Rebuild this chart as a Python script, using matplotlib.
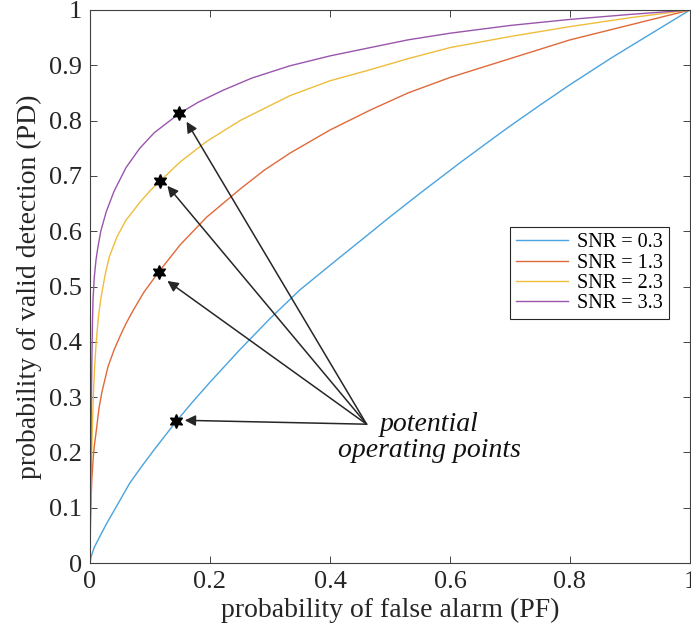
import matplotlib
matplotlib.use("Agg")
import matplotlib.pyplot as plt

plt.rcParams['font.family'] = ['Liberation Serif', 'DejaVu Serif']

# ---- data ----
snr_labels = ["SNR = 0.3", "SNR = 1.3", "SNR = 2.3", "SNR = 3.3"]

pf_snr03 = [0, 0.002, 0.007, 0.015, 0.027, 0.045, 0.066, 0.085, 0.107, 0.143, 0.17,
            0.2, 0.25, 0.3, 0.35, 0.411, 0.45, 0.5, 0.553, 0.617, 0.672, 0.7, 0.75,
            0.8, 0.867, 0.9, 0.95, 1.0]
pd_snr03 = [0, 0.012, 0.028, 0.045, 0.07, 0.104, 0.144, 0.173, 0.205, 0.255, 0.29,
            0.327, 0.386, 0.442, 0.494, 0.548, 0.582, 0.626, 0.671, 0.724, 0.768, 0.79, 0.828,
            0.865, 0.912, 0.934, 0.967, 1.0]

pf_snr13 = [0, 0.0003, 0.001, 0.002, 0.003, 0.005, 0.007, 0.01, 0.015, 0.02, 0.03,
            0.04, 0.05, 0.06, 0.071, 0.09, 0.115, 0.15, 0.194, 0.25, 0.29, 0.333,
            0.4, 0.467, 0.53, 0.6, 0.7, 0.8, 0.9, 1.0]
pd_snr13 = [0, 0.04, 0.08, 0.12, 0.15, 0.185, 0.21, 0.235, 0.28, 0.31, 0.355,
            0.385, 0.41, 0.433, 0.455, 0.49, 0.527, 0.575, 0.625, 0.676, 0.71, 0.741,
            0.783, 0.819, 0.85, 0.878, 0.912, 0.946, 0.973, 1.0]

pf_snr23 = [0, 0.0003, 0.001, 0.002, 0.003, 0.004, 0.0055, 0.0075, 0.01, 0.014, 0.018,
            0.025, 0.032, 0.045, 0.06, 0.083, 0.1, 0.117, 0.15, 0.194, 0.25, 0.333,
            0.4, 0.467, 0.53, 0.6, 0.7, 0.8, 0.9, 1.0]
pd_snr23 = [0, 0.05, 0.1, 0.16, 0.21, 0.25, 0.3, 0.35, 0.395, 0.445, 0.478,
            0.52, 0.553, 0.59, 0.62, 0.652, 0.673, 0.691, 0.725, 0.762, 0.80, 0.845,
            0.872, 0.892, 0.912, 0.932, 0.952, 0.970, 0.986, 1.0]

pf_snr33 = [0, 0.0003, 0.001, 0.002, 0.003, 0.004, 0.005, 0.007, 0.01, 0.013, 0.018,
            0.027, 0.04, 0.06, 0.083, 0.107, 0.149, 0.18, 0.222, 0.27, 0.333, 0.4,
            0.467, 0.53, 0.6, 0.7, 0.8, 0.9, 1.0]
pd_snr33 = [0, 0.06, 0.14, 0.26, 0.36, 0.43, 0.475, 0.515, 0.548, 0.57, 0.6,
            0.635, 0.672, 0.715, 0.75, 0.778, 0.813, 0.833, 0.855, 0.877, 0.899, 0.917,
            0.932, 0.946, 0.958, 0.972, 0.983, 0.992, 1.0]

# operating points
op_pf = [0.143, 0.115, 0.117, 0.149]
op_pd = [0.257, 0.527, 0.691, 0.813]

# arrow tips and common tail
arrow_tip_pf = [0.158, 0.129, 0.129, 0.161]
arrow_tip_pd = [0.258, 0.510, 0.682, 0.798]
arrow_tail = (0.461, 0.251)

xticks = [0, 0.2, 0.4, 0.6, 0.8, 1]
xticklabels = ["0", "0.2", "0.4", "0.6", "0.8", "1"]
yticks = [0, 0.1, 0.2, 0.3, 0.4, 0.5, 0.6, 0.7, 0.8, 0.9, 1]
yticklabels = ["0", "0.1", "0.2", "0.3", "0.4", "0.5", "0.6", "0.7", "0.8", "0.9", "1"]

colors = ['#4aa3df', '#e0693a', '#efbd3c', '#9a55ac']

# ---- figure ----
fig = plt.figure(figsize=(6.91, 6.35), dpi=100)
ax = fig.add_axes([90 / 691, 72 / 635, 600 / 691, 553 / 635])

series = [(pf_snr03, pd_snr03), (pf_snr13, pd_snr13), (pf_snr23, pd_snr23), (pf_snr33, pd_snr33)]
for (x, y), c, lab in zip(series, colors, snr_labels):
    ax.plot(x, y, color=c, lw=1.0, label=lab, solid_joinstyle='round')

ax.plot(op_pf, op_pd, linestyle='none', marker=(6, 1, 0), markersize=10,
        color='black', markeredgecolor='black', zorder=5)

for tx, ty in zip(arrow_tip_pf, arrow_tip_pd):
    ax.annotate('', xy=(tx, ty), xytext=arrow_tail,
                arrowprops=dict(arrowstyle='-|>', color='#262626', lw=1.1,
                                mutation_scale=16, shrinkA=0, shrinkB=0))

ax.text(0.565, 0.227, 'potential\noperating points', ha='center', va='center',
        style='italic', fontsize=20, linespacing=1.05, color='#111111')

ax.set_xlim(0, 1)
ax.set_ylim(0, 1)
ax.set_xticks(xticks)
ax.set_xticklabels(xticklabels)
ax.set_yticks(yticks)
ax.set_yticklabels(yticklabels)
ax.tick_params(direction='in', length=5, width=0.6, top=True, right=True,
               labelsize=19, colors='#262626', pad=6)
for s in ax.spines.values():
    s.set_color('#404040')
    s.set_linewidth(0.8)

ax.set_xlabel('probability of false alarm (PF)', fontsize=20, color='#262626', labelpad=3)
ax.set_ylabel('probability of valid detection (PD)', fontsize=20, color='#262626', labelpad=5)

leg = ax.legend(loc='upper right', bbox_to_anchor=(0.965, 0.607), fontsize=14.5,
                frameon=True, fancybox=False, framealpha=1, edgecolor='#262626',
                handlelength=2.6, labelspacing=0.06, borderpad=0.3,
                handletextpad=0.45, borderaxespad=0)
leg.get_frame().set_linewidth(0.8)

fig.savefig('out.png', dpi=100)
